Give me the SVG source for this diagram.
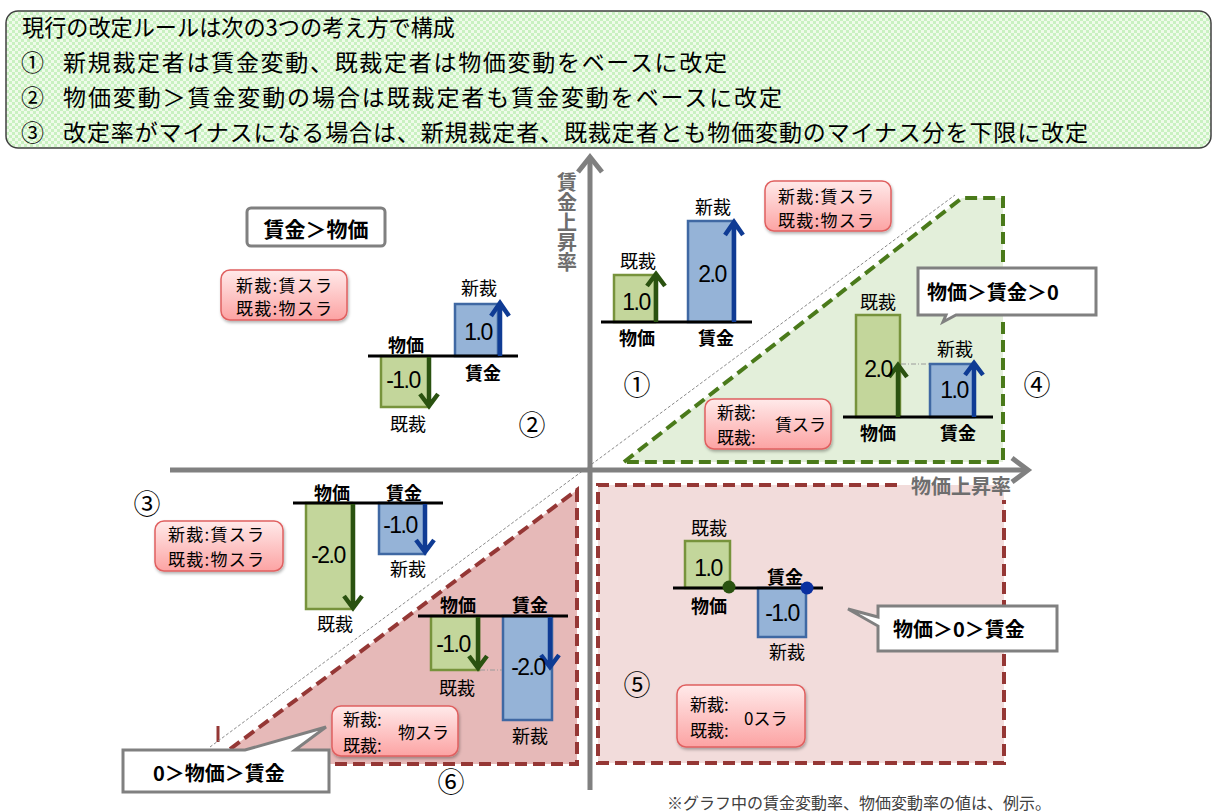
<svg xmlns="http://www.w3.org/2000/svg" width="1213" height="812" viewBox="0 0 1213 812">
<defs>
  <pattern id="chk" width="6" height="6" patternUnits="userSpaceOnUse">
    <rect width="6" height="6" fill="#effbea"/>
    <rect width="3" height="3" fill="#c9f1c1"/>
    <rect x="3" y="3" width="3" height="3" fill="#c9f1c1"/>
  </pattern>
  <linearGradient id="pink" x1="0" y1="0" x2="0" y2="1">
    <stop offset="0" stop-color="#ffeaea"/>
    <stop offset="1" stop-color="#fca3a3"/>
  </linearGradient>
  <filter id="sh" x="-10%" y="-10%" width="130%" height="140%">
    <feDropShadow dx="1" dy="2" stdDeviation="1.5" flood-color="#000" flood-opacity="0.3"/>
  </filter>
  <style>
    text { font-family: "Noto Sans CJK JP", "Noto Sans", sans-serif; fill: #000; }
    .hd { font-size: 23px; }
    .hc { font-size: 23px; }
    .lb { font-size: 18px; text-anchor: middle; dominant-baseline: central; }
    .bl { font-size: 18px; font-weight: bold; text-anchor: middle; dominant-baseline: central; }
    .num { font-family: "Liberation Sans", Arial, sans-serif; font-size: 23px; text-anchor: middle; dominant-baseline: central; letter-spacing: -1.5px; }
    .pk { fill: url(#pink); stroke: #e06060; stroke-width: 1.5; filter: url(#sh); }
    .pt { font-size: 17px; dominant-baseline: central; }
    .cl { fill: #fff; stroke: #808080; stroke-width: 3; }
    .ct { font-size: 20px; font-weight: bold; dominant-baseline: central; }
    .cn { font-size: 27px; text-anchor: middle; dominant-baseline: central; }
    .gb { fill: #c3d69b; stroke: #77933c; stroke-width: 2.5; }
    .bb { fill: #95b3d7; stroke: #3f68a3; stroke-width: 2.5; }
    .base { stroke: #000; stroke-width: 3; }
    .ga { fill: none; stroke: #2a5210; stroke-width: 4.5; }
    .ba { fill: none; stroke: #0f3b94; stroke-width: 4.5; }
    .dd { stroke: #9a9a9a; stroke-width: 1; stroke-dasharray: 5 2 1 2; }
    .ax { fill: none; stroke: #808080; stroke-width: 5; }
    .axl { font-size: 20px; font-weight: bold; fill: #6e6e6e; }
  </style>
</defs>

<rect width="1213" height="812" fill="#fff"/>

<!-- header -->
<g id="header">
  <rect x="6" y="11" width="1205" height="137" rx="12" fill="url(#chk)" stroke="#404040" stroke-width="1.5"/>
  <text class="hd" x="22" y="36" textLength="433" lengthAdjust="spacingAndGlyphs">現行の改定ルールは次の3つの考え方で構成</text>
  <text class="hc" x="21" y="71">①</text>
  <text class="hd" x="63" y="71" textLength="664">新規裁定者は賃金変動、既裁定者は物価変動をベースに改定</text>
  <text class="hc" x="21" y="106">②</text>
  <text class="hd" x="63" y="106" textLength="719">物価変動＞賃金変動の場合は既裁定者も賃金変動をベースに改定</text>
  <text class="hc" x="21" y="141">③</text>
  <text class="hd" x="63" y="141" textLength="1025">改定率がマイナスになる場合は、新規裁定者、既裁定者とも物価変動のマイナス分を下限に改定</text>
</g>

<!-- regions -->
<g id="region4">
  <polygon points="624,462 962,198 1003,198 1003,462" fill="#e3efda" stroke="#4a7a1a" stroke-width="4" stroke-dasharray="12 6"/>
</g>
<g id="region5">
  <rect x="598" y="485" width="406" height="278" fill="#f2dcdb"/>
  <path d="M897,485 H598 V763 H1004 V500" fill="none" stroke="#953735" stroke-width="4" stroke-dasharray="12 6"/>
</g>
<g id="region6">
  <polygon points="577,490 577,764 210,764" fill="#e6b9b8" stroke="#953735" stroke-width="4" stroke-dasharray="12 6"/>
  <line x1="218" y1="726" x2="218" y2="742" stroke="#953735" stroke-width="3"/>
</g>

<!-- diagonal guide -->
<line x1="210" y1="747" x2="955" y2="195" stroke="#8a8a8a" stroke-width="1" stroke-dasharray="3 2"/>

<!-- axes -->
<g id="axes">
  <line class="ax" x1="590" y1="158" x2="590" y2="790"/>
  <polyline class="ax" points="578,172 590,157 602,172"/>
  <line class="ax" x1="170" y1="470" x2="1028" y2="470"/>
  <polyline class="ax" points="1012,458 1028,470 1012,482"/>
  <text class="axl" x="567" y="172" writing-mode="tb" style="glyph-orientation-vertical:0">賃金上昇率</text>
  <text class="axl" x="911" y="494">物価上昇率</text>
</g>

<!-- circled numbers -->
<g id="labels-num">
  <text class="cn" x="637" y="383">①</text>
  <text class="cn" x="532" y="423">②</text>
  <text class="cn" x="147" y="502">③</text>
  <text class="cn" x="1037" y="383">④</text>
  <text class="cn" x="637" y="683">⑤</text>
  <text class="cn" x="451" y="780">⑥</text>
</g>

<!-- Q1 chart -->
<g id="chart1">
  <rect class="gb" x="614" y="275" width="41" height="47"/>
  <rect class="bb" x="688" y="221" width="45" height="101"/>
  <line class="base" x1="601" y1="322" x2="752" y2="322"/>
  <path class="ga" d="M656,322 V275 M647,286 L656,274 L665,286"/>
  <path class="ba" d="M734,322 V223 M725,235 L734,222 L743,235"/>
  <text class="num" x="636" y="302">1.0</text>
  <text class="num" x="712" y="274">2.0</text>
  <text class="lb" x="638" y="260">既裁</text>
  <text class="lb" x="713" y="206">新裁</text>
  <text class="bl" x="637" y="337">物価</text>
  <text class="bl" x="716" y="337">賃金</text>
</g>

<!-- Q2 chart -->
<g id="chart2">
  <rect class="bb" x="455" y="304" width="43" height="52"/>
  <rect class="gb" x="381" y="356" width="48" height="51"/>
  <line class="base" x1="368" y1="356" x2="518" y2="356"/>
  <path class="ba" d="M500,356 V304 M491,316 L500,303 L509,316"/>
  <path class="ga" d="M429,357 V405 M420,394 L429,406 L438,394"/>
  <text class="num" x="478" y="332">1.0</text>
  <text class="num" x="403" y="380">-1.0</text>
  <text class="lb" x="479" y="287">新裁</text>
  <text class="bl" x="406" y="344">物価</text>
  <text class="bl" x="483" y="372">賃金</text>
  <text class="lb" x="408" y="423">既裁</text>
</g>

<!-- Q3 chart -->
<g id="chart3">
  <rect class="gb" x="306" y="503" width="46" height="106"/>
  <rect class="bb" x="379" y="503" width="46" height="51"/>
  <line class="base" x1="293" y1="503" x2="443" y2="503"/>
  <path class="ga" d="M353,504 V607 M344,596 L353,608 L362,596"/>
  <path class="ba" d="M425,504 V550 M416,540 L425,552 L434,540"/>
  <text class="num" x="328" y="555">-2.0</text>
  <text class="num" x="400" y="525">-1.0</text>
  <text class="bl" x="332" y="492">物価</text>
  <text class="bl" x="404" y="492">賃金</text>
  <text class="lb" x="335" y="623">既裁</text>
  <text class="lb" x="408" y="568">新裁</text>
</g>

<!-- Q4 chart -->
<g id="chart4">
  <rect class="gb" x="856" y="315" width="44" height="102"/>
  <rect class="bb" x="930" y="364" width="44" height="53"/>
  <line class="dd" x1="901" y1="364" x2="929" y2="364"/>
  <line class="base" x1="843" y1="417" x2="993" y2="417"/>
  <path class="ga" d="M898,417 V366 M889,377 L898,365 L907,377"/>
  <path class="ba" d="M974,417 V364 M965,375 L974,363 L983,375"/>
  <text class="num" x="878" y="369">2.0</text>
  <text class="num" x="954" y="390">1.0</text>
  <text class="lb" x="878" y="301">既裁</text>
  <text class="lb" x="955" y="348">新裁</text>
  <text class="bl" x="878" y="432">物価</text>
  <text class="bl" x="958" y="432">賃金</text>
</g>

<!-- Q5 chart -->
<g id="chart5">
  <rect class="gb" x="685" y="541" width="45" height="47"/>
  <rect class="bb" x="758" y="588" width="48" height="49"/>
  <line class="base" x1="673" y1="588" x2="823" y2="588"/>
  <circle cx="729" cy="587" r="6.5" fill="#2a5210"/>
  <circle cx="807" cy="588" r="6.5" fill="#0a2fa0"/>
  <text class="num" x="708" y="568">1.0</text>
  <text class="num" x="782" y="613">-1.0</text>
  <text class="lb" x="709" y="527">既裁</text>
  <text class="bl" x="709" y="605">物価</text>
  <text class="bl" x="785" y="576">賃金</text>
  <text class="lb" x="787" y="651">新裁</text>
</g>

<!-- Q6 chart -->
<g id="chart6">
  <rect class="gb" x="431" y="616" width="48" height="54"/>
  <rect class="bb" x="503" y="616" width="49" height="104"/>
  <line class="dd" x1="480" y1="670" x2="502" y2="670"/>
  <line class="base" x1="418" y1="616" x2="568" y2="616"/>
  <path class="ga" d="M478,617 V667 M469,656 L478,668 L487,656"/>
  <path class="ba" d="M550,617 V666 M541,655 L550,667 L559,655"/>
  <text class="num" x="453" y="644">-1.0</text>
  <text class="num" x="528" y="667">-2.0</text>
  <text class="bl" x="458" y="604">物価</text>
  <text class="bl" x="530" y="604">賃金</text>
  <text class="lb" x="457" y="687">既裁</text>
  <text class="lb" x="530" y="735">新裁</text>
</g>

<!-- pink boxes -->
<g id="note-q2">
  <rect class="pk" x="221" y="270" width="126" height="50" rx="9"/>
  <text class="pt" x="236" y="284" textLength="96">新裁:賃スラ</text>
  <text class="pt" x="236" y="307" textLength="96">既裁:物スラ</text>
</g>
<g id="note-q1">
  <rect class="pk" x="765" y="181" width="126" height="50" rx="9"/>
  <text class="pt" x="778" y="195" textLength="96">新裁:賃スラ</text>
  <text class="pt" x="778" y="219" textLength="96">既裁:物スラ</text>
</g>
<g id="note-q4">
  <rect class="pk" x="705" y="399" width="126" height="50" rx="9"/>
  <text class="pt" x="717" y="411">新裁:</text>
  <text class="pt" x="717" y="436">既裁:</text>
  <text class="pt" x="775" y="423">賃スラ</text>
</g>
<g id="note-q3">
  <rect class="pk" x="155" y="521" width="128" height="50" rx="9"/>
  <text class="pt" x="168" y="533" textLength="96">新裁:賃スラ</text>
  <text class="pt" x="168" y="558" textLength="96">既裁:物スラ</text>
</g>
<g id="note-q6">
  <rect class="pk" x="332" y="706" width="126" height="50" rx="9"/>
  <text class="pt" x="343" y="718">新裁:</text>
  <text class="pt" x="343" y="744">既裁:</text>
  <text class="pt" x="398" y="731">物スラ</text>
</g>
<g id="note-q5">
  <rect class="pk" x="677" y="685" width="128" height="62" rx="9"/>
  <text class="pt" x="690" y="703">新裁:</text>
  <text class="pt" x="690" y="729">既裁:</text>
  <text class="pt" x="744" y="717">0スラ</text>
</g>

<!-- callouts -->
<g id="callout-wage">
  <rect class="cl" x="247" y="208" width="138" height="38" rx="4"/>
  <text class="ct" x="316" y="228" text-anchor="middle" style="font-size:21px">賃金＞物価</text>
</g>
<g id="callout-q4">
  <path class="cl" d="M918,268 H1096 V315 H956 L943,322 L946,315 H918 Z"/>
  <text class="ct" x="927" y="291">物価＞賃金＞0</text>
</g>
<g id="callout-q5">
  <path class="cl" d="M878,606 H1057 V651 H878 V626 L848,609 L878,617 Z"/>
  <text class="ct" x="893" y="628">物価＞0＞賃金</text>
</g>
<g id="callout-q6">
  <path class="cl" d="M123,750 H245 L326,727 L295,750 H329 V792 H123 Z"/>
  <text class="ct" x="153" y="772">0＞物価＞賃金</text>
</g>

<text x="667" y="802" style="font-size:16px;fill:#404040;dominant-baseline:central">※グラフ中の賃金変動率、物価変動率の値は、例示。</text>
</svg>
